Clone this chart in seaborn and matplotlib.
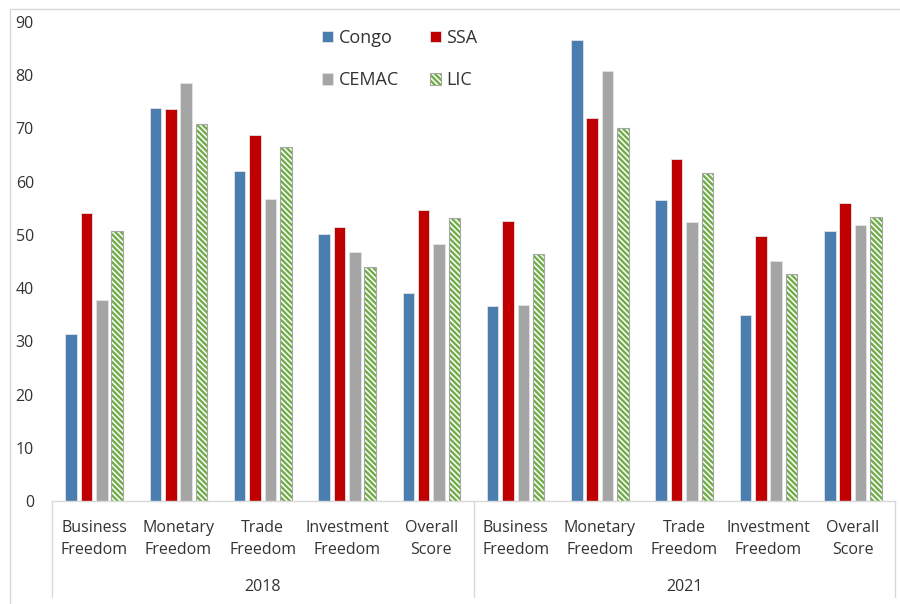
import matplotlib
matplotlib.use("Agg")
import matplotlib.pyplot as plt
import matplotlib.patches as mpatches
from matplotlib.colors import to_rgba
import seaborn as sns
import pandas as pd

# Economic freedom sub-indices, by year
years = ["2018", "2021"]
indicators = ["Business\nFreedom", "Monetary\nFreedom", "Trade\nFreedom",
              "Investment\nFreedom", "Overall\nScore"]
series = ["Congo", "SSA", "CEMAC", "LIC"]

congo = [31.4, 73.9, 62.0, 50.1, 39.0, 36.7, 86.6, 56.5, 35.0, 50.8]
ssa = [54.2, 73.6, 68.8, 51.5, 54.7, 52.6, 71.9, 64.2, 49.8, 56.0]
cemac = [37.8, 78.5, 56.7, 46.8, 48.3, 36.9, 80.7, 52.5, 45.1, 51.8]
lic = [50.7, 70.9, 66.5, 43.9, 53.2, 46.5, 70.0, 61.7, 42.7, 53.4]

BLUE, RED, GREY, GREEN = "#4A7EB0", "#C00000", "#A5A5A5", "#70AD47"
TEXT = "#333333"
LINE = "#D9D9D9"
BAR_EDGE = "#E4E4E4"
LIC_EDGE = "#A6A6A6"

slots = [f"{y} {ind}" for y in years for ind in indicators]
rows = []
for name, vals in zip(series, [congo, ssa, cemac, lic]):
    for slot, v in zip(slots, vals):
        rows.append({"slot": slot, "series": name, "value": v})
df = pd.DataFrame(rows)

sns.set_theme(style="white")
plt.rcParams["font.family"] = ["Open Sans", "DejaVu Sans"]
plt.rcParams["hatch.linewidth"] = 1.7

fig = plt.figure(figsize=(9, 6.04), dpi=100)
ax = fig.add_axes([52 / 900, 103 / 604, 843 / 900, 479 / 604])

sns.barplot(data=df, x="slot", y="value", hue="series", order=slots,
            hue_order=series, palette=[BLUE, RED, GREY, "white"],
            width=0.73, gap=0.25, legend=False, ax=ax,
            edgecolor=BAR_EDGE, linewidth=0.6, saturation=1)

# LIC bars: green diagonal hatching inside a grey outline
HATCH = "\\\\\\\\\\\\"


def hatch_green(patch):
    patch.set_facecolor("white")
    patch.set_edgecolor(LIC_EDGE)
    patch.set_linewidth(0.8)
    patch.set_hatch(HATCH)
    patch._hatch_color = to_rgba(GREEN)


for p in ax.containers[3]:
    hatch_green(p)

ax.set_xlim(-0.5, len(slots) - 0.5)
ax.set_ylim(0, 90)
ax.set_yticks(range(0, 91, 10))
ax.set_xlabel("")
ax.set_ylabel("")

for s in ["top", "right", "left"]:
    ax.spines[s].set_visible(False)
ax.spines["bottom"].set_color(LINE)
ax.spines["bottom"].set_linewidth(1)

ax.tick_params(axis="y", length=0, pad=13, labelsize=11.5, labelcolor=TEXT)
ax.set_xticks(range(len(slots)))
ax.set_xticklabels(indicators * len(years), linespacing=1.45)
ax.tick_params(axis="x", length=0, pad=14, labelsize=11.5, labelcolor=TEXT)

# Year row of the category axis and its separators
xform = ax.get_xaxis_transform()
n = len(indicators)
for i, y in enumerate(years):
    ax.text(i * n + (n - 1) / 2, -0.18, y, transform=xform, ha="center",
            va="center", fontsize=11.5, color=TEXT)
for xb in [-0.5 + i * n for i in range(len(years) + 1)]:
    ax.plot([xb, xb], [0, -0.2], transform=xform, color=LINE, lw=1,
            clip_on=False)

# Legend (two columns, filled row by row)
h_congo = mpatches.Patch(facecolor=BLUE, edgecolor=BAR_EDGE, lw=0.6)
h_ssa = mpatches.Patch(facecolor=RED, edgecolor=BAR_EDGE, lw=0.6)
h_cemac = mpatches.Patch(facecolor=GREY, edgecolor=BAR_EDGE, lw=0.6)
h_lic = mpatches.Patch()
hatch_green(h_lic)
leg = fig.legend([h_congo, h_cemac, h_ssa, h_lic],
                 [series[0], series[2], series[1], series[3]],
                 loc="upper left", bbox_to_anchor=(322 / 900, 1 - 29 / 604),
                 ncol=2, frameon=False, fontsize=13, handlelength=0.62,
                 handleheight=0.62, handletextpad=0.3, columnspacing=1.7,
                 labelspacing=1.35, borderpad=0, borderaxespad=0,
                 labelcolor=TEXT)
for h in leg.legend_handles:
    if h.get_hatch():
        h._hatch_color = to_rgba(GREEN)

# Chart frame
fig.patches.append(mpatches.Rectangle((10 / 900, -0.05), 1.2, 1.05 - 9 / 604,
                                      transform=fig.transFigure, fill=False,
                                      edgecolor=LINE, lw=1))

fig.savefig("out.png", dpi=100)
